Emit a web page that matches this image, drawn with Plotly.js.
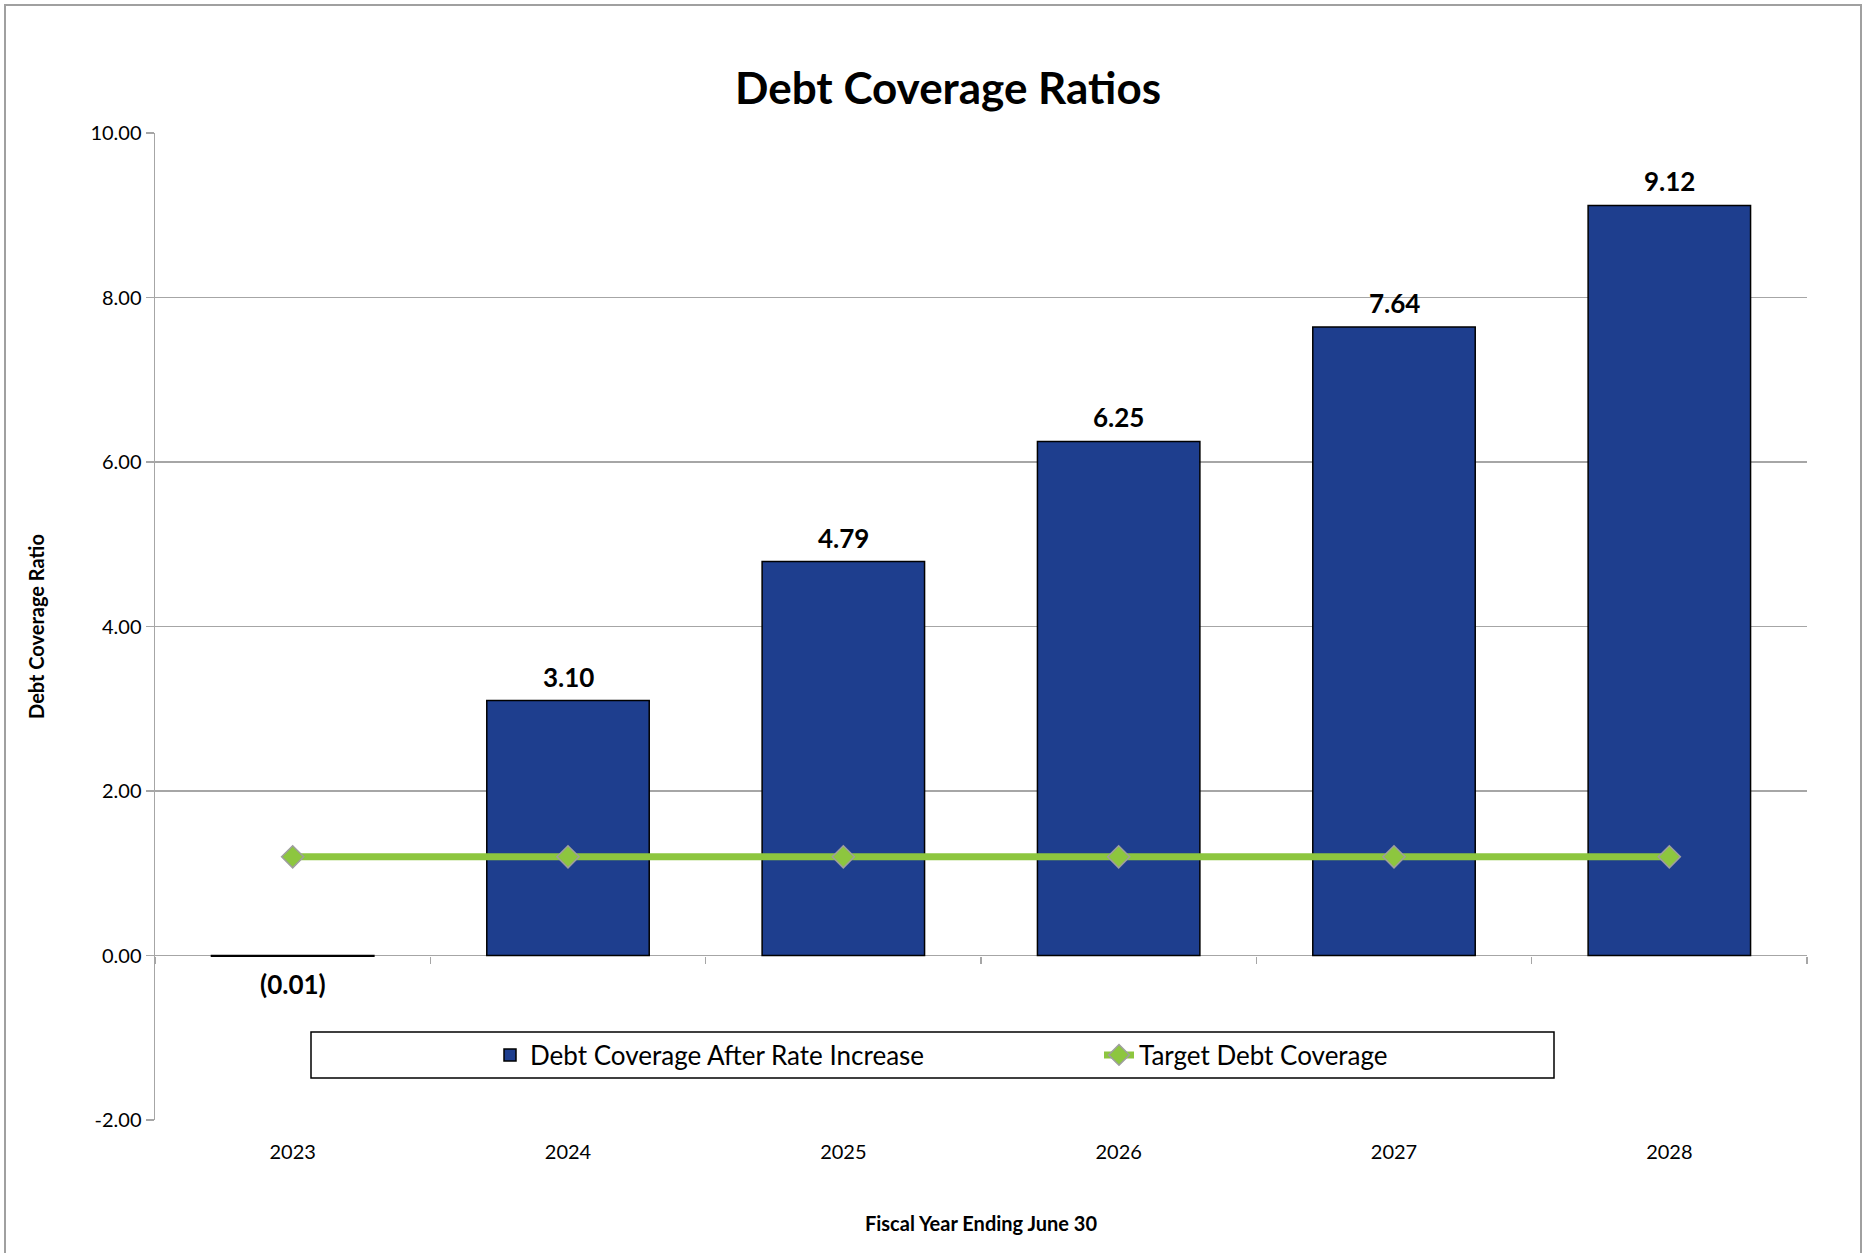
<!DOCTYPE html>
<html>
<head>
<meta charset="utf-8">
<script src="https://cdn.plot.ly/plotly-3.0.1.min.js"></script>
<style>html,body{margin:0;padding:0;background:#fff;}#chart{width:1864px;height:1253px;}</style>
</head>
<body>
<div id="chart"></div>
<script>
// ---- data ----
const years = ['2023', '2024', '2025', '2026', '2027', '2028'];
const coverageAfterIncrease = [-0.01, 3.10, 4.79, 6.25, 7.64, 9.12];
const targetCoverage = [1.20, 1.20, 1.20, 1.20, 1.20, 1.20];
const yTickVals = [-2, 0, 2, 4, 6, 8, 10];
const yTickText = ['-2.00', '0.00', '2.00', '4.00', '6.00', '8.00', '10.00'];
const seriesNames = ['Debt Coverage After Rate Increase', 'Target Debt Coverage'];
const chartTitle = 'Debt Coverage Ratios';
const xTitle = 'Fiscal Year Ending June 30';
const yTitle = 'Debt Coverage Ratio';

const FONT = 'Lato, "Open Sans", sans-serif';
const GRID = '#A6A6A6';

function fmt(v) {
  return v < 0 ? '(' + Math.abs(v).toFixed(2) + ')' : v.toFixed(2);
}

const traces = [
  {
    type: 'bar',
    name: seriesNames[0],
    x: years,
    y: coverageAfterIncrease,
    marker: { color: '#1E3E8E', line: { color: '#000000', width: 1.5 } },
    hoverinfo: 'x+y'
  },
  {
    type: 'scatter',
    mode: 'lines+markers',
    name: seriesNames[1],
    x: years,
    y: targetCoverage,
    xaxis: 'x2',
    line: { color: '#8DC63F', width: 7 },
    marker: { symbol: 'diamond', size: 17, color: '#8DC63F', line: { color: '#9E9E9E', width: 1.5 } }
  }
];

// data labels: x given as category index so numeric-looking names are not misread
const annotations = years.map((yr, i) => {
  const v = coverageAfterIncrease[i];
  return {
    x: i, y: v, xref: 'x', yref: 'y',
    text: fmt(v), showarrow: false,
    yanchor: v >= 0 ? 'bottom' : 'top',
    yshift: v >= 0 ? 6 : -10,
    font: { family: FONT, size: 26, color: '#000', weight: 'bold' }
  };
});

const xRange = [-0.5, years.length - 0.5];

const layout = {
  width: 1864, height: 1253,
  margin: { l: 155, r: 57, t: 133, b: 133, pad: 0 },
  paper_bgcolor: '#ffffff', plot_bgcolor: '#ffffff',
  font: { family: FONT, color: '#000' },
  bargap: 0.41,
  showlegend: true,
  title: {
    text: chartTitle,
    x: 948 / 1864, xanchor: 'center', xref: 'container',
    y: 1 - 89 / 1253, yanchor: 'middle', yref: 'container',
    font: { family: FONT, size: 44, color: '#000', weight: 'bold' }
  },
  xaxis: {
    type: 'category', categoryorder: 'array', categoryarray: years,
    range: xRange, autorange: false,
    showgrid: false, showline: false, zeroline: false, ticks: '',
    ticklabelstandoff: 18,
    tickfont: { family: FONT, size: 20, color: '#000' },
    title: { text: xTitle, standoff: 54, font: { family: FONT, size: 20, color: '#000', weight: 'bold' } },
    automargin: false
  },
  xaxis2: {
    type: 'category', categoryorder: 'array', categoryarray: years,
    range: xRange, autorange: false,
    overlaying: 'x', anchor: 'free', position: 2 / 12, side: 'bottom',
    showgrid: false, showline: false, zeroline: false,
    ticks: 'outside', tickson: 'boundaries', ticklen: 7, tickcolor: GRID, tickwidth: 1.5,
    showticklabels: false
  },
  yaxis: {
    range: [-2, 10], autorange: false, tickvals: yTickVals, ticktext: yTickText,
    showgrid: true, gridcolor: GRID, gridwidth: 1.5,
    showline: true, linecolor: GRID, linewidth: 1.5,
    zeroline: false,
    ticks: 'outside', ticklen: 8, tickcolor: GRID, tickwidth: 1.5,
    tickfont: { family: FONT, size: 20, color: '#000' },
    title: { text: yTitle, standoff: 40, font: { family: FONT, size: 20, color: '#000', weight: 'bold' } },
    automargin: false
  },
  legend: {
    orientation: 'h',
    x: (490 - 155) / 1652, xanchor: 'left',
    y: (1120 - 1055) / 987, yanchor: 'middle',
    bgcolor: 'rgba(0,0,0,0)', borderwidth: 0,
    entrywidth: 564,
    font: { family: FONT, size: 26, color: '#000' },
    traceorder: 'normal'
  },
  shapes: [
    { type: 'rect', xref: 'paper', yref: 'paper', layer: 'below',
      x0: (5 - 155) / 1652, x1: (1861 - 155) / 1652,
      y0: (1120 - 1262) / 987, y1: (1120 - 5) / 987,
      line: { color: '#A0A0A0', width: 2 }, fillcolor: 'rgba(0,0,0,0)' },
    { type: 'rect', xref: 'paper', yref: 'paper', layer: 'above',
      x0: (311 - 155) / 1652, x1: (1554 - 155) / 1652,
      y0: (1120 - 1078) / 987, y1: (1120 - 1032) / 987,
      line: { color: '#000', width: 1.5 }, fillcolor: 'rgba(0,0,0,0)' }
  ],
  annotations: annotations
};

Plotly.newPlot('chart', traces, layout, { displayModeBar: false, staticPlot: true });
</script>
</body>
</html>
